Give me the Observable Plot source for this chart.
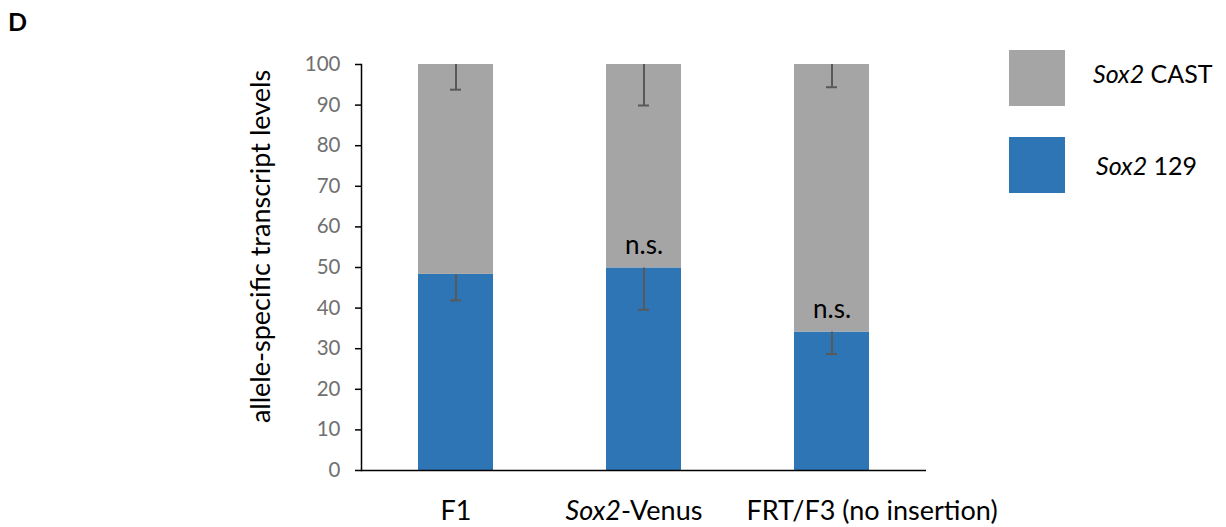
<!DOCTYPE html>
<html><head><meta charset="utf-8">
<script src="https://cdn.jsdelivr.net/npm/d3@7"></script>
<script src="https://cdn.jsdelivr.net/npm/@observablehq/plot@0.6"></script>
<style>
body{margin:0;background:#fff;font-family:Lato,sans-serif;}
#wrap{position:relative;width:1226px;height:527px;overflow:hidden;}
#wrap svg{position:absolute;left:0;top:0;}
.abs{position:absolute;line-height:1;white-space:nowrap;color:#000;}
.sw{position:absolute;width:56px;height:56px;}
</style></head><body><div id="wrap"></div>
<script>
const categories = ["F1", "Sox2-Venus", "FRT/F3 (no insertion)"];
const series = ["Sox2 129", "Sox2 CAST"];
const allele129 = [48.3, 49.9, 34.1];
const err129 = [6.4, 10.3, 5.4];
const alleleCAST = [51.7, 50.1, 65.9];
const errCAST = [6.2, 10.1, 5.6];
const sigLabels = ["", "n.s.", "n.s."];
const yTicks = [0, 10, 20, 30, 40, 50, 60, 70, 80, 90, 100];
const colors = ["#2E75B6", "#A5A5A5"];
const yLabel = "allele-specific transcript levels";
const legendOrder = ["Sox2 CAST", "Sox2 129"];
// layout only: horizontal nudge of category labels (px) to avoid overlap, as in the original
const labelNudge = [0, -10, 40];

const rows = [];
categories.forEach((c, i) => {
  rows.push({category: c, allele: series[0], value: allele129[i]});
  rows.push({category: c, allele: series[1], value: alleleCAST[i]});
});
const errRows = categories.flatMap((c, i) => [
  {category: c, top: allele129[i], bottom: allele129[i] - err129[i]},
  {category: c, top: allele129[i] + alleleCAST[i], bottom: allele129[i] + alleleCAST[i] - errCAST[i]}
]);
const sig = categories.map((c, i) => ({category: c, y: allele129[i], label: sigLabels[i]})).filter(d => d.label);

const chart = Plot.plot({
  width: 1226, height: 527,
  marginLeft: 361, marginRight: 300, marginTop: 64, marginBottom: 57,
  style: {fontFamily: "Lato, sans-serif", background: "transparent", overflow: "visible"},
  x: {domain: categories, paddingInner: 0.6, paddingOuter: 0.3, label: null},
  y: {domain: [0, 100], label: null},
  color: {domain: series, range: colors},
  marks: [
    Plot.barY(rows, {x: "category", y: "value", fill: "allele"}),
    Plot.ruleX(errRows, {x: "category", y1: "top", y2: "bottom", stroke: "#595959", strokeWidth: 2}),
    Plot.tickY(errRows, {x: "category", y: "bottom", stroke: "#595959", strokeWidth: 2, insetLeft: 32, insetRight: 32}),
    Plot.text(sig, {x: "category", y: "y", text: "label", lineAnchor: "bottom", dy: -14, fontSize: 26, fill: "black"}),
    Plot.ruleY([0], {stroke: "black", strokeWidth: 1.5}),
    Plot.frame({anchor: "left", stroke: "black", strokeWidth: 1.5}),
    Plot.axisY({ticks: yTicks, tickSize: 6, tickPadding: 15, fontSize: 20.5, color: "#707070", stroke: "black", strokeWidth: 1.5, label: null}),
    Plot.axisX({tickSize: 0, tickPadding: 30, fontSize: 27, color: "black", label: null}),
    Plot.text([yLabel], {frameAnchor: "left", textAnchor: "middle", rotate: -90, dx: -100, dy: -21, fontSize: 27, fill: "black"})
  ]
});

// italicize gene name "Sox2" within category labels, and nudge labels as in the original
d3.select(chart).selectAll("text").each(function() {
  const t = this.textContent;
  const i = categories.indexOf(t);
  if (i < 0) return;
  const s = d3.select(this);
  if (labelNudge[i]) {
    const prev = s.attr("transform") || "";
    s.attr("transform", `translate(${labelNudge[i]},0) ${prev}`.trim());
  }
  if (t === "Sox2-Venus") {
    s.text(null);
    s.append("tspan").attr("font-style", "italic").text("Sox2");
    s.append("tspan").text("-Venus");
  }
});

const wrap = document.getElementById("wrap");
wrap.appendChild(chart);

const D = document.createElement("div");
D.className = "abs";
D.style.cssText = "left:8px;top:9px;font-size:25px;font-weight:bold;";
D.textContent = "D";
wrap.appendChild(D);

const legendPos = [{sy: 50, ty: 61, tx: 1093}, {sy: 137, ty: 153, tx: 1096}];
legendOrder.forEach((name, i) => {
  const p = legendPos[i];
  const sw = document.createElement("div");
  sw.className = "sw";
  sw.style.left = "1009px";
  sw.style.top = p.sy + "px";
  sw.style.background = colors[series.indexOf(name)];
  wrap.appendChild(sw);
  const lab = document.createElement("div");
  lab.className = "abs";
  lab.style.left = p.tx + "px";
  lab.style.top = p.ty + "px";
  lab.style.fontSize = "25px";
  const [gene, rest] = name.split(" ");
  const it = document.createElement("i");
  it.textContent = gene;
  lab.appendChild(it);
  lab.appendChild(document.createTextNode(" " + rest));
  wrap.appendChild(lab);
});
</script>
</body></html>
